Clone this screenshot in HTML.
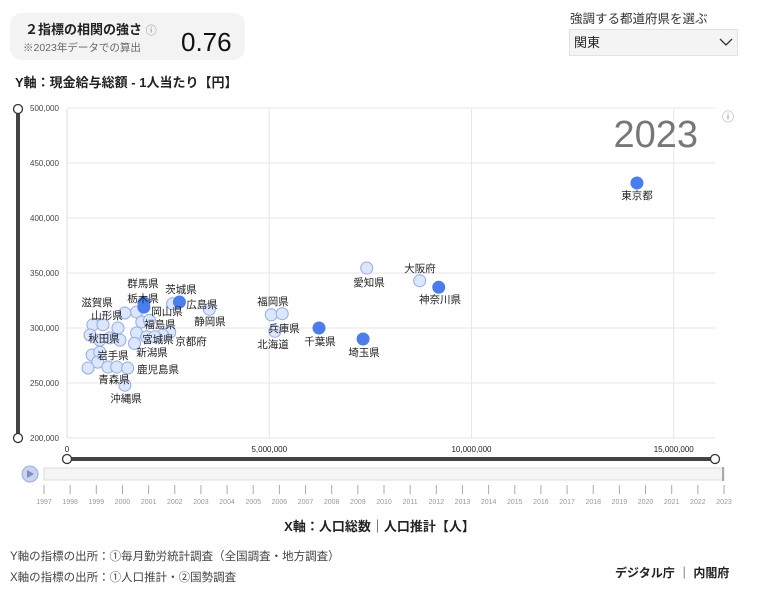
<!DOCTYPE html>
<html><head><meta charset="utf-8">
<style>
body{margin:0;width:759px;height:593px;background:#fff;font-family:"Liberation Sans","Noto Sans CJK JP",sans-serif;position:relative;overflow:hidden;color:#222}
.abs{position:absolute}
</style></head><body>
<div class="abs" style="left:10px;top:13px;width:235px;height:47px;background:#f3f3f3;border-radius:12px"></div>
<div class="abs" style="left:25px;top:19px;font-size:13px;font-weight:bold">２指標の相関の強さ <span style="font-weight:normal;color:#888;font-size:11px">ⓘ</span></div>
<div class="abs" style="left:23px;top:40px;font-size:10.5px;color:#666">※2023年データでの算出</div>
<div class="abs" style="left:181px;top:27px;font-size:26px;color:#111">0.76</div>
<div class="abs" style="left:570px;top:8px;font-size:12.5px;color:#333">強調する都道府県を選ぶ</div>
<div class="abs" style="left:569px;top:29px;width:169px;height:27px;background:#f4f4f4;border:1px solid #e2e2e2;box-sizing:border-box;font-size:13px;line-height:25px;padding-left:4px">関東<svg style="position:absolute;right:4px;top:8px" width="14" height="9"><path d="M1 1 L7 7 L13 1" stroke="#333" fill="none" stroke-width="1.3"/></svg></div>
<div class="abs" style="left:15px;top:72px;font-size:13px;font-weight:bold">Y軸：現金給与総額 - 1人当たり【円】</div>
<svg class="abs" style="left:0;top:0" width="759" height="593" id="chart"></svg>
<div class="abs" style="left:0;width:759px;text-align:center;top:516px;font-size:13px;font-weight:bold">X軸：人口総数｜人口推計【人】</div>
<div class="abs" style="left:10px;top:548px;font-size:11.5px;color:#444">Y軸の指標の出所：①毎月勤労統計調査（全国調査・地方調査）</div>
<div class="abs" style="left:10px;top:569px;font-size:11.5px;color:#444">X軸の指標の出所：①人口推計・②国勢調査</div>
<div class="abs" style="left:615px;top:564px;font-size:12px;font-weight:bold">デジタル庁 ｜ 内閣府</div>
<script>
const pops=[14.09,9.19,7.32,6.23,2.78,1.90,1.90,7.41,8.72,5.05,5.32,5.14,2.61,3.52,1.72,1.43,1.85,2.04,2.54,2.36,1.72,1.67,1.97,2.17,0.64,0.89,1.26,0.57,0.81,1.06,1.31,0.62,0.81,0.76,1.01,1.23,1.50,0.52,1.43];
const wages=[431.8,337,290,300,323.6,323,319,354.5,343,312,313,297,322,317,314.5,313.6,305.5,307,296,293.6,295.5,286,292,292,303,303,300,293.6,289,291,289,275.5,278,269,264.5,264.5,263.6,263.6,248];
const highlight=[1,1,1,1,1,1,1,0,0,0,0,0,0,0,0,0,0,0,0,0,0,0,0,0,0,0,0,0,0,0,0,0,0,0,0,0,0,0,0];
const yTicks=[200,250,300,350,400,450,500];
const xTicks=[0,5,10,15];
const years=[1997,1998,1999,2000,2001,2002,2003,2004,2005,2006,2007,2008,2009,2010,2011,2012,2013,2014,2015,2016,2017,2018,2019,2020,2021,2022,2023];
const labels=[["東京都",637,195],["神奈川県",440,299],["埼玉県",364,352],["千葉県",320,341],["茨城県",181,289],["群馬県",143,283],["栃木県",143,298],["愛知県",369,282],["大阪府",420,268],["福岡県",273,301],["兵庫県",284,328],["北海道",273,344],["広島県",202,304],["静岡県",210,321],["岡山県",167,311],["福島県",160,324],["滋賀県",97,302],["山形県",107,315],["秋田県",104,338],["宮城県",158,339],["京都府",191,341],["新潟県",152,352],["岩手県",113,355],["鹿児島県",158,369],["青森県",114,379],["沖縄県",126,398]];
const NS="http://www.w3.org/2000/svg",svg=document.getElementById('chart');
const X=v=>67+v*40.45, Y=v=>438-(v-200)*1.1;
function mk(t,a,txt){const e=document.createElementNS(NS,t);for(const k in a)e.setAttribute(k,a[k]);if(txt!=null)e.textContent=txt;svg.appendChild(e);return e;}
yTicks.forEach(t=>{
 const l=mk('line',{x1:67,x2:715,y1:Y(t),y2:Y(t),stroke:'#e6e6e6'});
 
 
 const tx=mk('text',{x:30,y:Y(t)+3,'font-size':8,fill:'#444'},(t*1000).toLocaleString('en-US'));
 
 
});
xTicks.forEach(t=>{
 const l=mk('line',{x1:X(t),x2:X(t),y1:109,y2:438,stroke:'#e6e6e6'});
 
 
 const tx=mk('text',{x:X(t),y:452,'font-size':8,fill:'#222','text-anchor':'middle'},(t*1e6).toLocaleString('en-US'));
 
 
});
let e=mk('line',{x1:67,x2:67,y1:109,y2:438,stroke:'#ddd'});


e=mk('text',{x:698,y:147,'font-size':38,fill:'#777','text-anchor':'end'},'2023');


e=mk('text',{x:728,y:121,'font-size':12,fill:'#888','text-anchor':'middle'},'ⓘ');


e=mk('line',{x1:18,x2:18,y1:109,y2:438,stroke:'#444','stroke-width':4});


[109,438].forEach(y=>{const c=mk('circle',{cx:18,cy:y,r:4.5,fill:'#fff',stroke:'#333','stroke-width':1.3});
 
 });
e=mk('line',{x1:67,x2:715,y1:459,y2:459,stroke:'#444','stroke-width':4});


[67,715].forEach(x=>{const c=mk('circle',{cx:x,cy:459,r:4.5,fill:'#fff',stroke:'#333','stroke-width':1.3});
 
 });
e=mk('circle',{cx:30,cy:474,r:8,fill:'#c8d3f0',stroke:'#9aaee0'});


mk('path',{d:'M27 470 L34 474 L27 478 Z',fill:'#8090b0'});
e=mk('rect',{x:44,y:468,width:680,height:12,fill:'#f5f5f5',stroke:'#ddd'});


mk('line',{x1:723,x2:723,y1:467,y2:481,stroke:'#aaa','stroke-width':2});
const YX=i=>44+i*(680/(years.length-1));
years.forEach((yr,i)=>{
 mk('line',{x1:YX(i),x2:YX(i),y1:485,y2:494,stroke:'#aaa'});
 const tx=mk('text',{x:YX(i),y:504,'font-size':7,fill:'#999','text-anchor':'middle'},yr);
 
 
});
const order=pops.map((_,i)=>i).sort((a,b)=>highlight[a]-highlight[b]);
order.forEach(i=>{
 const h=highlight[i];
 const c=mk('circle',{cx:X(pops[i]),cy:Y(wages[i]),r:6,fill:h?'#4a7df0':'#dce6fd',stroke:h?'#4a7df0':'#8eaaf0','stroke-width':1});
 
 
});
labels.forEach(l=>{
 const t=mk('text',{x:l[1],y:l[2]+4,'font-size':10.5,fill:'#222','text-anchor':'middle'},l[0]);
 
 
});
</script>
</body></html>
